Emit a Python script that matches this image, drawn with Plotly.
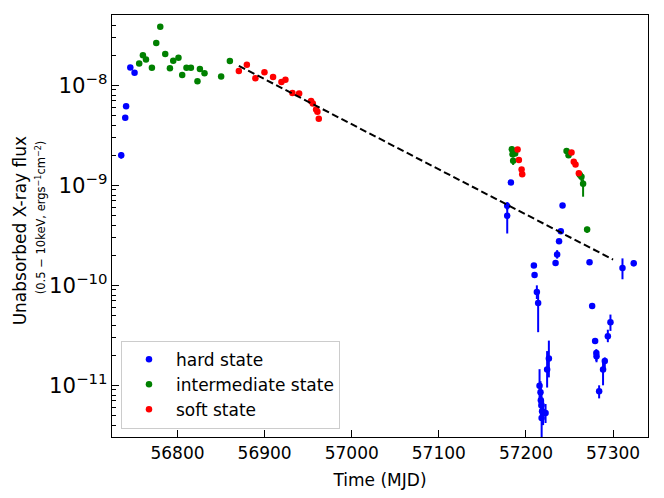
import plotly.graph_objects as go

# ---------------- data ----------------
hard_mjd = [56735.4, 56740.0, 56741.0, 56745.8, 56750.7,
            57178.5, 57178.5, 57182.7, 57209.1, 57209.9, 57212.5, 57214.0,
            57215.6, 57216.7, 57217.1, 57217.9, 57218.5, 57219.7, 57222.5, 57218.0,
            57224.3, 57226.3, 57234.0, 57235.8, 57238.0, 57240.0, 57242.0,
            57273.0, 57276.0, 57279.4, 57280.8, 57281.0, 57284.0, 57288.5,
            57290.5, 57294.0, 57297.0, 57310.8, 57323.7]
hard_flux = [2.0e-9, 4.74e-9, 6.2e-9, 1.51e-8, 1.34e-8,
             6.24e-10, 4.96e-10, 1.07e-9, 1.58e-10, 1.27e-10, 8.6e-11, 6.67e-11,
             9.9e-12, 8.5e-12, 7.1e-12, 6.3e-12, 5.5e-12, 5.4e-12, 5.3e-12, 4.7e-12,
             1.44e-11, 1.85e-11, 1.67e-10, 2.04e-10, 2.76e-10, 3.47e-10, 6.3e-10,
             1.7e-10, 6.2e-11, 2.78e-11, 2.1e-11, 1.95e-11, 8.7e-12, 1.44e-11,
             1.75e-11, 3.1e-11, 4.27e-11, 1.49e-10, 1.66e-10]
hard_lo = [1.85e-9, 4.5e-9, 5.9e-9, 1.45e-8, 1.29e-8,
           5.7e-10, 3.3e-10, 1.02e-9, 1.52e-10, 1.22e-10, 7.3e-11, 3.4e-11,
           6.0e-12, 6.0e-12, 5.0e-12, 4.5e-12, 4.0e-12, 4.0e-12, 4.2e-12, 1.0e-12,
           9.5e-12, 1.2e-11, 1.6e-10, 1.85e-10, 2.65e-10, 3.35e-10, 6.1e-10,
           1.63e-10, 5.9e-11, 2.65e-11, 1.75e-11, 1.7e-11, 7.4e-12, 1.0e-11,
           1.5e-11, 2.7e-11, 3.5e-11, 1.15e-10, 1.55e-10]
hard_hi = [2.15e-9, 5.0e-9, 6.5e-9, 1.57e-8, 1.39e-8,
           6.8e-10, 6.2e-10, 1.12e-9, 1.64e-10, 1.32e-10, 1.0e-10, 8.9e-11,
           1.45e-11, 1.1e-11, 9.5e-12, 8.5e-12, 7.0e-12, 7.0e-12, 6.5e-12, 6.0e-12,
           2.2e-11, 2.8e-11, 1.74e-10, 2.25e-10, 2.87e-10, 3.6e-10, 6.5e-10,
           1.77e-10, 6.5e-11, 2.9e-11, 2.3e-11, 2.2e-11, 1.0e-11, 1.75e-11,
           1.9e-11, 3.6e-11, 5.1e-11, 1.86e-10, 1.78e-10]

inter_mjd = [56756.0, 56760.3, 56763.8, 56770.6, 56775.6, 56780.2, 56785.9,
             56791.3, 56795.1, 56801.1, 56805.4, 56810.3, 56815.4, 56822.9,
             56825.7, 56831.0, 56850.1, 56860.1,
             57183.8, 57184.6, 57187.6, 57185.3,
             57246.6, 57248.9, 57261.8, 57263.7, 57265.6, 57270.2]
inter_flux = [1.66e-8, 2.0e-8, 1.82e-8, 1.5e-8, 2.65e-8, 3.86e-8, 2.06e-8,
              1.48e-8, 1.76e-8, 1.89e-8, 1.27e-8, 1.5e-8, 1.5e-8, 1.1e-8,
              1.46e-8, 1.32e-8, 1.23e-8, 1.75e-8,
              2.3e-9, 2.05e-9, 2.08e-9, 1.76e-9,
              2.21e-9, 2.0e-9, 1.28e-9, 1.22e-9, 1.04e-9, 3.62e-10]
inter_lo = [1.62e-8, 1.95e-8, 1.78e-8, 1.46e-8, 2.6e-8, 3.78e-8, 2.01e-8,
            1.44e-8, 1.72e-8, 1.85e-8, 1.24e-8, 1.46e-8, 1.46e-8, 1.07e-8,
            1.42e-8, 1.29e-8, 1.2e-8, 1.71e-8,
            2.1e-9, 1.95e-9, 1.98e-9, 1.6e-9,
            2.1e-9, 1.9e-9, 1.2e-9, 1.1e-9, 7.7e-10, 3.35e-10]
inter_hi = [1.7e-8, 2.05e-8, 1.86e-8, 1.54e-8, 2.7e-8, 3.94e-8, 2.11e-8,
            1.52e-8, 1.8e-8, 1.93e-8, 1.3e-8, 1.54e-8, 1.54e-8, 1.13e-8,
            1.5e-8, 1.35e-8, 1.26e-8, 1.79e-8,
            2.45e-9, 2.15e-9, 2.18e-9, 1.9e-9,
            2.3e-9, 2.1e-9, 1.36e-9, 1.32e-9, 1.15e-9, 3.85e-10]

soft_mjd = [56870.4, 56879.6, 56889.4, 56899.8, 56909.7, 56919.3, 56923.9,
            56931.9, 56939.6, 56953.3, 56955.3, 56959.1, 56960.6, 56962.2,
            57190.4, 57191.9, 57195.0, 57195.7,
            57252.3, 57254.9, 57256.9, 57260.7]
soft_flux = [1.39e-8, 1.61e-8, 1.18e-8, 1.35e-8, 1.21e-8, 1.08e-8, 1.14e-8,
             8.4e-9, 8.3e-9, 6.97e-9, 6.6e-9, 5.75e-9, 5.45e-9, 4.64e-9,
             2.29e-9, 1.79e-9, 1.44e-9, 1.29e-9,
             2.13e-9, 1.72e-9, 1.62e-9, 1.32e-9]
soft_err = [0.02] * len(soft_flux)   # fractional error (hidden under markers)

fit_mjd = [56870.4, 57300.0]
fit_flux = [1.57e-8, 1.81e-10]

x_ticks = [56800, 56900, 57000, 57100, 57200, 57300]

# ---------------- figure ----------------
FONT = "DejaVu Sans"
FS = 17


def trace(name, x, y, lo, hi, color):
    return go.Scatter(
        x=x, y=y, mode="markers", name=name, legendgroup=name,
        marker=dict(color=color, size=6.5, line=dict(width=0)),
        error_y=dict(type="data", symmetric=False,
                     array=[h - v for h, v in zip(hi, y)],
                     arrayminus=[v - l for l, v in zip(lo, y)],
                     color=color, thickness=2, width=0),
    )


fig = go.Figure()
fig.add_trace(trace("hard state", hard_mjd, hard_flux, hard_lo, hard_hi, "#0000ff"))
fig.add_trace(trace("intermediate state", inter_mjd, inter_flux, inter_lo, inter_hi, "#008000"))
fig.add_trace(trace("soft state", soft_mjd, soft_flux,
                    [v * (1 - e) for v, e in zip(soft_flux, soft_err)],
                    [v * (1 + e) for v, e in zip(soft_flux, soft_err)], "#ff0000"))
# dashed decay line, drawn on the overlay axis (identical range) so it sits on top
fig.add_trace(go.Scatter(x=fit_mjd, y=fit_flux, mode="lines", showlegend=False,
                         yaxis="y2",
                         line=dict(color="black", width=2, dash="7px,3.5px")))

L, R, T, B = 111.7, 648.3, 15.0, 436.7
W, H = 664, 498
pw, ph = R - L, B - T
YR = [-11.517, -7.296]

# minor tick positions on the log axis (2..9 x 10^k)
minor_vals = [m * 10.0 ** k for k in range(-12, -7) for m in range(2, 10)]

fig.update_layout(
    width=W, height=H,
    margin=dict(l=L, r=W - R, t=T, b=H - B),
    paper_bgcolor="white", plot_bgcolor="white",
    font=dict(family=FONT, size=FS, color="black"),
    showlegend=True,
    legend=dict(x=(120.7 - L) / pw, y=(B - 428.3) / ph, xanchor="left", yanchor="bottom",
                bgcolor="rgba(255,255,255,0.8)", bordercolor="#cccccc", borderwidth=1,
                font=dict(family=FONT, size=FS), tracegroupgap=0,
                itemwidth=44),
    xaxis=dict(range=[56724.8, 57340.1], tickvals=x_ticks,
               ticktext=[str(v) for v in x_ticks],
               ticks="inside", ticklen=7, tickwidth=1.2, tickcolor="black",
               showline=True, linecolor="black", linewidth=1.2, mirror=True,
               showgrid=False, zeroline=False,
               title=dict(text="Time (MJD)", font=dict(size=FS), standoff=12)),
    yaxis=dict(type="log", range=YR, dtick=1,
               exponentformat="power", showexponent="all",
               ticks="inside", ticklen=7, tickwidth=1.2, tickcolor="black",
               showline=True, linecolor="black", linewidth=1.2, mirror=True,
               showgrid=False, zeroline=False),
    yaxis2=dict(type="log", range=YR, overlaying="y", side="left",
                tickmode="array", tickvals=minor_vals, showticklabels=False,
                ticks="inside", ticklen=4, tickwidth=1, tickcolor="black",
                showline=False, showgrid=False, zeroline=False),
)

fig.add_annotation(text="Unabsorbed X-ray flux", textangle=-90, showarrow=False,
                   xref="paper", yref="paper",
                   x=(20 - L) / pw, y=(B - 230.8) / ph, xanchor="center", yanchor="middle",
                   font=dict(family=FONT, size=FS))
fig.add_annotation(text="(0.5 − 10keV, ergs<sup>−1</sup>cm<sup>−2</sup>)", textangle=-90,
                   showarrow=False, xref="paper", yref="paper",
                   x=(41 - L) / pw, y=(B - 216.7) / ph, xanchor="center", yanchor="middle",
                   font=dict(family=FONT, size=11.5))

fig.write_html("out.html", config={"displayModeBar": False},
               post_script="document.body.style.margin='0px';document.body.style.padding='0px';")
